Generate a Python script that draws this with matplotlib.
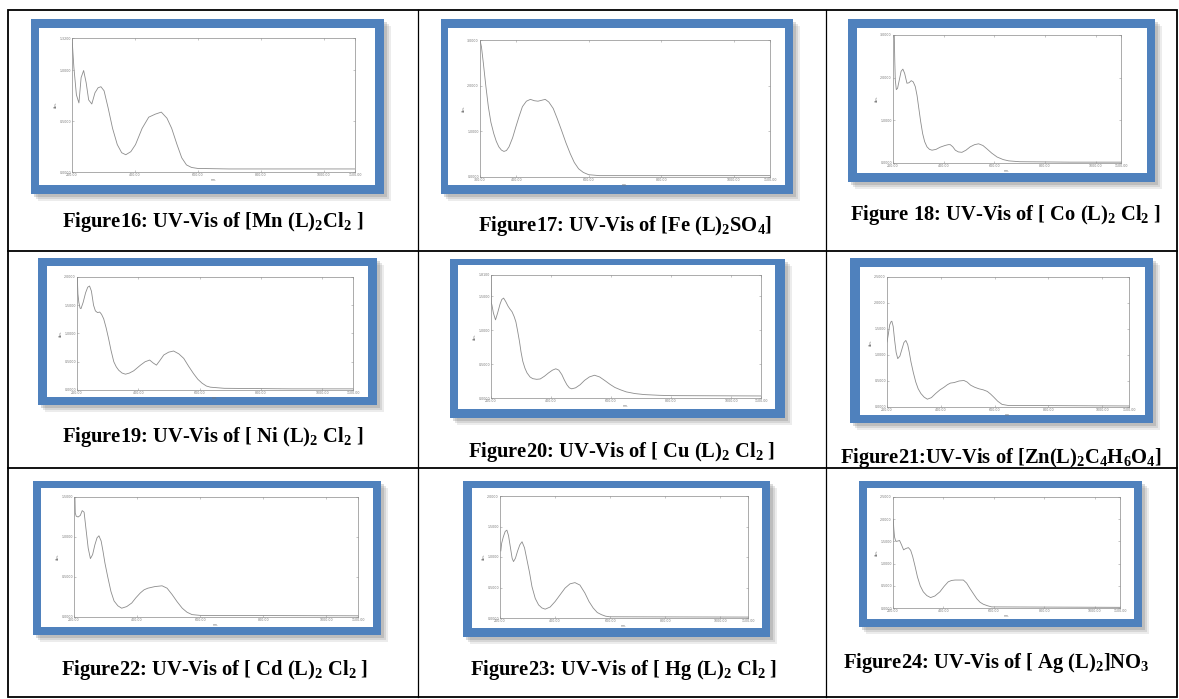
import matplotlib
matplotlib.use('Agg')
import matplotlib.pyplot as plt
from matplotlib.patches import Rectangle

plt.rcParams['mathtext.fontset'] = 'custom'
plt.rcParams['mathtext.rm'] = 'Liberation Serif:bold'
plt.rcParams['mathtext.bf'] = 'Liberation Serif:bold'
plt.rcParams['mathtext.it'] = 'Liberation Serif:bold'
plt.rcParams['mathtext.default'] = 'rm'

# spectra (wavelength nm, absorbance)
mn_nm = [200, 206, 214, 222, 229, 237, 245, 253, 263, 273, 283, 292, 302, 315, 329, 344, 358, 371, 387,
         402, 423, 444, 465, 484, 502, 517, 534, 549, 564, 580, 600, 700, 800, 900, 1000, 1100]
mn_abs = [1.32, 1.03, 0.76, 0.68, 0.93, 1.0, 0.88, 0.71, 0.67, 0.78, 0.83, 0.84, 0.80, 0.63, 0.43, 0.27, 0.19,
          0.17, 0.20, 0.27, 0.43, 0.54, 0.57, 0.59, 0.53, 0.43, 0.27, 0.14, 0.07, 0.045, 0.035, 0.03, 0.03,
          0.03, 0.03, 0.03]

fe_nm = [300, 304, 309, 316, 323, 330, 338, 345, 352, 359, 366, 373, 380, 390, 399, 408, 417, 428, 439, 450,
         460, 470, 480, 490, 502, 513, 525, 537, 549, 560, 572, 585, 600, 630, 800, 1000, 1100]
fe_abs = [3.0, 2.85, 2.51, 2.0, 1.54, 1.2, 0.95, 0.78, 0.66, 0.59, 0.56, 0.58, 0.66, 0.86, 1.10, 1.33, 1.54,
          1.66, 1.70, 1.67, 1.66, 1.68, 1.70, 1.64, 1.50, 1.28, 1.02, 0.75, 0.51, 0.32, 0.18, 0.10, 0.05,
          0.03, 0.03, 0.03, 0.03]

co_nm = [205, 207, 209, 213, 218, 225, 232, 239, 246, 255, 263, 272, 280, 288, 295, 301, 309, 317, 325, 334,
         344, 354, 370, 386, 405, 418, 426, 436, 446, 458, 472, 488, 505, 522, 538, 555, 571, 590, 611, 635,
         657, 700, 900, 1100]
co_abs = [3.0, 2.4, 1.95, 1.72, 1.75, 1.95, 2.15, 2.2, 2.1, 1.87, 1.88, 1.93, 1.9, 1.79, 1.58, 1.32, 0.98,
          0.69, 0.5, 0.38, 0.32, 0.30, 0.32, 0.37, 0.41, 0.43, 0.43, 0.38, 0.30, 0.26, 0.25, 0.30, 0.38,
          0.43, 0.45, 0.41, 0.33, 0.23, 0.14, 0.08, 0.05, 0.03, 0.02, 0.02]

ni_nm = [201, 203, 206, 210, 213, 220, 228, 235, 241, 247, 254, 260, 267, 274, 280, 287, 295, 303, 311, 320,
         328, 336, 347, 358, 371, 385, 396, 407, 422, 437, 448, 459, 470, 483, 499, 515, 532, 548, 564, 580,
         594, 608, 622, 635, 680, 900, 1100]
ni_abs = [2.0, 1.7, 1.55, 1.45, 1.44, 1.55, 1.72, 1.82, 1.84, 1.75, 1.5, 1.40, 1.37, 1.38, 1.34, 1.26, 1.1,
          0.91, 0.70, 0.50, 0.41, 0.35, 0.30, 0.28, 0.30, 0.34, 0.39, 0.44, 0.50, 0.53, 0.48, 0.44, 0.52,
          0.62, 0.67, 0.69, 0.64, 0.56, 0.42, 0.29, 0.19, 0.12, 0.07, 0.05, 0.03, 0.02, 0.02]

cu_nm = [200, 201, 203, 208, 215, 222, 230, 236, 242, 249, 257, 263, 270, 277, 283, 289, 295, 300, 306, 313,
         320, 330, 339, 352, 364, 378, 392, 405, 416, 426, 436, 445, 453, 461, 469, 482, 497, 512, 528, 545,
         562, 580, 597, 613, 632, 651, 680, 712, 760, 800, 1100]
cu_abs = [1.81, 1.4, 1.37, 1.25, 1.15, 1.25, 1.38, 1.45, 1.47, 1.42, 1.35, 1.31, 1.27, 1.2, 1.12, 0.98, 0.83,
          0.68, 0.54, 0.44, 0.37, 0.31, 0.285, 0.275, 0.28, 0.32, 0.37, 0.41, 0.43, 0.41, 0.345, 0.26, 0.195,
          0.15, 0.135, 0.15, 0.195, 0.26, 0.31, 0.335, 0.31, 0.255, 0.2, 0.155, 0.12, 0.09, 0.065, 0.05,
          0.04, 0.035, 0.03]

zn_nm = [200, 205, 210, 215, 218, 223, 228, 234, 240, 248, 256, 263, 270, 277, 283, 289, 298, 307, 316, 326,
         338, 350, 365, 381, 397, 412, 425, 436, 450, 468, 486, 498, 511, 526, 542, 558, 573, 585, 597, 612,
         628, 650, 1100]
zn_abs = [1.25, 1.4, 1.58, 1.64, 1.65, 1.55, 1.3, 1.05, 0.93, 0.98, 1.12, 1.24, 1.28, 1.2, 1.05, 0.87, 0.66,
          0.48, 0.35, 0.26, 0.19, 0.15, 0.18, 0.26, 0.33, 0.38, 0.43, 0.46, 0.47, 0.50, 0.51, 0.48, 0.42,
          0.38, 0.35, 0.33, 0.30, 0.25, 0.19, 0.11, 0.05, 0.03, 0.02]

cd_nm = [203, 204, 207, 213, 220, 226, 232, 238, 245, 252, 259, 266, 273, 279, 286, 292, 298, 307, 317, 327,
         339, 351, 367, 383, 396, 410, 422, 434, 456, 479, 495, 511, 527, 543, 558, 574, 600, 1100]
cd_abs = [1.5, 1.3, 1.26, 1.25, 1.27, 1.33, 1.31, 1.1, 0.86, 0.73, 0.78, 0.9, 0.99, 1.015, 0.95, 0.82, 0.675,
          0.5, 0.32, 0.2, 0.14, 0.11, 0.13, 0.175, 0.24, 0.3, 0.34, 0.36, 0.38, 0.39, 0.36, 0.28, 0.19, 0.11,
          0.06, 0.03, 0.02, 0.015]

hg_nm = [203, 206, 212, 219, 225, 231, 238, 244, 249, 256, 264, 272, 280, 289, 298, 307, 316, 328, 340, 352,
         364, 382, 400, 418, 436, 454, 472, 490, 508, 523, 538, 553, 568, 583, 598, 1100]
hg_abs = [1.1, 1.225, 1.33, 1.42, 1.44, 1.35, 1.15, 0.98, 0.925, 0.98, 1.1, 1.2, 1.25, 1.15, 0.95, 0.75, 0.515,
          0.32, 0.215, 0.165, 0.145, 0.18, 0.27, 0.38, 0.49, 0.56, 0.58, 0.54, 0.41, 0.27, 0.165, 0.09, 0.055,
          0.03, 0.02, 0.015]

ag_nm = [201, 203, 206, 210, 213, 220, 226, 234, 242, 251, 261, 270, 278, 287, 297, 308, 320, 334, 349, 366,
         386, 403, 419, 432, 446, 462, 479, 492, 505, 519, 532, 545, 558, 575, 591, 1100]
ag_abs = [2.0, 1.8, 1.6, 1.52, 1.5, 1.51, 1.52, 1.42, 1.31, 1.34, 1.36, 1.3, 1.16, 0.95, 0.70, 0.5, 0.365,
          0.28, 0.235, 0.27, 0.365, 0.49, 0.59, 0.62, 0.63, 0.63, 0.63, 0.56, 0.44, 0.32, 0.21, 0.13, 0.085,
          0.05, 0.025, 0.015]

spectra = [(mn_nm, mn_abs), (fe_nm, fe_abs), (co_nm, co_abs),
           (ni_nm, ni_abs), (cu_nm, cu_abs), (zn_nm, zn_abs),
           (cd_nm, cd_abs), (hg_nm, hg_abs), (ag_nm, ag_abs)]

x_ticks = [[200, 400, 600, 800, 1000, 1100], [300, 400, 600, 800, 1000, 1100],
           [200, 400, 600, 800, 1000, 1100], [200, 400, 600, 800, 1000, 1100],
           [200, 400, 600, 800, 1000, 1100], [200, 400, 600, 800, 1000, 1100],
           [200, 400, 600, 800, 1000, 1100], [200, 400, 600, 800, 1000, 1100],
           [200, 400, 600, 800, 1000, 1100]]
y_ticks = [[0, 0.5, 1.0, 1.32], [0, 1, 2, 3], [0, 1, 2, 3],
           [0, 0.5, 1.0, 1.5, 2.0], [0, 0.5, 1.0, 1.5, 1.81], [0, 0.5, 1.0, 1.5, 2.0, 2.5],
           [0, 0.5, 1.0, 1.5], [0, 0.5, 1.0, 1.5, 2.0], [0, 0.5, 1.0, 1.5, 2.0, 2.5]]

captions = ['Figure16: UV-Vis of [Mn (L)$_2$Cl$_2$ ]',
            'Figure17: UV-Vis of [Fe (L)$_2$SO$_4$]',
            'Figure 18: UV-Vis of [ Co (L)$_2$ Cl$_2$ ]',
            'Figure19: UV-Vis of [ Ni (L)$_2$ Cl$_2$ ]',
            'Figure20: UV-Vis of [ Cu (L)$_2$ Cl$_2$ ]',
            'Figure21:UV-Vis of [Zn(L)$_2$C$_4$H$_6$O$_4$]',
            'Figure22: UV-Vis of [ Cd (L)$_2$ Cl$_2$ ]',
            'Figure23: UV-Vis of [ Hg (L)$_2$ Cl$_2$ ]',
            'Figure24: UV-Vis of [ Ag (L)$_2$]NO$_3$']

# layout in pixels (left, top, right, bottom)
W, H = 1179, 699
frames = [(31, 19, 384, 194), (441, 19, 793, 194), (848, 19, 1155, 182),
          (38, 258, 377, 405), (450, 259, 785, 418), (850, 258, 1153, 423),
          (33, 481, 381, 635), (463, 481, 770, 637), (859, 481, 1142, 627)]
whites = [(39, 28, 375, 185), (448, 28, 785, 185), (857, 28, 1147, 173),
          (47, 266, 368, 397), (458, 265, 775, 409), (860, 267, 1145, 415),
          (41, 488, 373, 627), (472, 488, 762, 628), (867, 488, 1134, 619)]
axboxes = [(72, 38, 355, 172), (480, 40, 770, 177), (893, 35, 1121, 163),
           (77, 277, 353, 390), (491, 275, 761, 398), (887, 277, 1129, 407),
           (74, 497, 358, 617), (500, 496, 748, 618), (893, 497, 1120, 608)]
cap_xy = [(213, 222), (625, 226), (1006, 215),
          (213, 437), (622, 452), (1001, 458),
          (215, 670), (624, 670), (996, 663)]

blue = '#4F81BD'

fig = plt.figure(figsize=(W / 100, H / 100), dpi=100)
bg = fig.add_axes([0, 0, 1, 1])
bg.set_xlim(0, W)
bg.set_ylim(H, 0)
bg.axis('off')

# table grid
bg.add_patch(Rectangle((8, 10), 1169, 687, fill=False, ec='black', lw=1.3))
for x in (418, 826):
    bg.plot([x, x], [10, 697], color='black', lw=0.9)
for y in (251, 468):
    bg.plot([8, 1177], [y, y], color='black', lw=1.3)

for i in range(9):
    l, t, r, b = frames[i]
    # soft shadow
    for k, a in zip((7, 5, 3), (0.14, 0.2, 0.28)):
        bg.add_patch(Rectangle((l + k, t + k), r - l, b - t, fc='#7f7f7f', ec='none', alpha=a))
    bg.add_patch(Rectangle((l, t), r - l, b - t, fc=blue, ec='none'))
    wl, wt, wr, wb = whites[i]
    bg.add_patch(Rectangle((wl, wt), wr - wl, wb - wt, fc='white', ec='none'))
    cx, cy = cap_xy[i]
    bg.text(cx, cy, captions[i], ha='center', va='center', fontsize=14.8,
            family='Liberation Serif', weight='bold')

    al, at, ar, ab = axboxes[i]
    ax = fig.add_axes([al / W, 1 - ab / H, (ar - al) / W, (ab - at) / H])
    nm, absv = spectra[i]
    ax.plot(nm, absv, color='#8c8c8c', lw=0.6)
    if i == 2:
        ax.axhline(0.005, color='#d04040', lw=0.6)
    ax.set_xlim(x_ticks[i][0], 1100)
    ax.set_ylim(0, y_ticks[i][-1])
    ax.set_xticks(x_ticks[i])
    ax.set_xticklabels(['%.2f' % v for v in x_ticks[i]])
    ax.set_yticks(y_ticks[i])
    ax.set_yticklabels(['%.4f' % v for v in y_ticks[i]])
    ax.tick_params(labelsize=2.3, labelcolor='#777777', color='#999999', length=1.2, width=0.4,
                   pad=0.8, direction='in', top=True, right=True)
    for s in ax.spines.values():
        s.set_color('#8a8a8a')
        s.set_linewidth(0.5)
    ax.set_ylabel('Abs.', fontsize=2.3, color='#777777', labelpad=1)
    ax.set_xlabel('nm.', fontsize=2.3, color='#777777', labelpad=0.5)

fig.savefig('out.png', dpi=100)
